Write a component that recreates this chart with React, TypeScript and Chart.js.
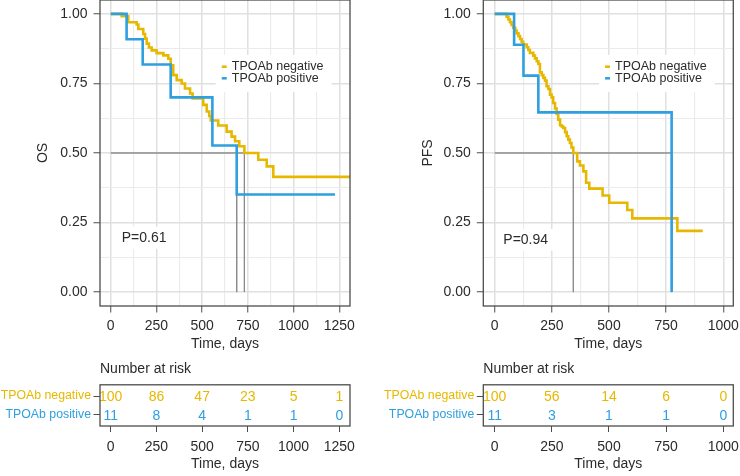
import React, { useEffect, useRef } from 'react';
import { Chart, registerables } from 'chart.js';

Chart.register(...registerables);

const YELLOW = '#E7B800';
const BLUE = '#2E9FDF';
const FONT = "'Liberation Sans', Arial, Helvetica, sans-serif";
const TEXT = '#2b2b2b';
const FRAME = '#4d4d4d';
const GRID_MAJOR = '#e0e0e0';
const GRID_MINOR = '#ebebeb';
const MEDIAN_H = '#555555';
const MEDIAN_V = '#8a8a8a';

const groupLabels = ['TPOAb negative', 'TPOAb positive'];
const survTicks = [0, 0.25, 0.5, 0.75, 1];

// ---- Overall survival (OS) ----
const osNegTimes = [0, 60, 96, 142, 151, 178, 188, 197, 209, 224, 251, 288, 315, 328, 342, 361, 388, 406, 434, 448, 506, 525, 539, 547, 588, 634, 661, 680, 703, 731, 807, 853, 889, 1310];
const osNegSurv = [1, 0.992, 0.97, 0.962, 0.946, 0.928, 0.911, 0.893, 0.879, 0.869, 0.859, 0.851, 0.839, 0.815, 0.78, 0.762, 0.75, 0.732, 0.714, 0.696, 0.673, 0.649, 0.633, 0.617, 0.599, 0.577, 0.559, 0.542, 0.524, 0.5, 0.476, 0.452, 0.414, 0.414];
const osPosTimes = [0, 87, 175, 328, 556, 689, 1226];
const osPosSurv = [1, 0.909, 0.818, 0.7, 0.527, 0.351, 0.351];
const osMedianNeg = 731;
const osMedianPos = 689;
const osPText = 'P=0.61';
const osTimeTicks = [0, 250, 500, 750, 1000, 1250];
const osRiskNeg = [100, 86, 47, 23, 5, 1];
const osRiskPos = [11, 8, 4, 1, 1, 0];

// ---- Progression-free survival (PFS) ----
const pfsNegTimes = [0, 52, 60, 67, 74, 81, 90, 96, 104, 111, 118, 125, 140, 147, 154, 169, 176, 184, 191, 198, 206, 213, 220, 227, 235, 242, 249, 256, 264, 271, 278, 286, 293, 300, 308, 315, 322, 329, 336, 344, 361, 373, 388, 400, 414, 472, 501, 580, 602, 799, 910];
const pfsNegSurv = [1, 0.99, 0.98, 0.97, 0.96, 0.95, 0.94, 0.93, 0.92, 0.91, 0.9, 0.89, 0.88, 0.87, 0.86, 0.85, 0.84, 0.83, 0.82, 0.79, 0.78, 0.77, 0.76, 0.74, 0.73, 0.71, 0.7, 0.68, 0.66, 0.64, 0.62, 0.6, 0.595, 0.59, 0.575, 0.56, 0.548, 0.536, 0.52, 0.5, 0.47, 0.455, 0.434, 0.393, 0.372, 0.347, 0.321, 0.295, 0.265, 0.22, 0.22];
const pfsPosTimes = [0, 85, 126, 191, 774];
const pfsPosSurv = [1, 0.889, 0.778, 0.646, 0];
const pfsMedianNeg = 344;
const pfsMedianPos = 774;
const pfsPText = 'P=0.94';
const pfsTimeTicks = [0, 250, 500, 750, 1000];
const pfsRiskNeg = [100, 56, 14, 6, 0];
const pfsRiskPos = [11, 3, 1, 1, 0];

function pts(t: number[], s: number[]) {
  return t.map((x, i) => ({ x, y: s[i] }));
}

function midpoints(ticks: number[], min: number, max: number) {
  const out: number[] = [];
  for (let i = 0; i < ticks.length - 1; i++) out.push((ticks[i] + ticks[i + 1]) / 2);
  const step = ticks[1] - ticks[0];
  if (ticks[ticks.length - 1] + step / 2 <= max) out.push(ticks[ticks.length - 1] + step / 2);
  if (ticks[0] - step / 2 >= min) out.push(ticks[0] - step / 2);
  return out;
}

function isIn(list: number[], v: number) {
  return list.some((t) => Math.abs(t - v) < 1e-6);
}

function zeroPad(s: any) {
  s.paddingLeft = 0;
  s.paddingRight = 0;
  s.paddingTop = 0;
  s.paddingBottom = 0;
}

const font = (size: number) => ({ family: FONT, size, weight: 'normal' as const });

type KMProps = {
  pageLeft: number;
  width: number;
  height: number;
  areaLeft: number;
  areaRight: number;
  xAxisHeight: number;
  xMin: number;
  xMax: number;
  xTicks: number[];
  yTitle: string;
  yTitlePad: number;
  negT: number[];
  negS: number[];
  posT: number[];
  posS: number[];
  medNeg: number;
  medPos: number;
  pText: string;
  pFx: number;
  pFy: number;
  legFx: number;
  legFy: number;
};

function KMPlot(p: KMProps) {
  const ref = useRef<HTMLCanvasElement>(null);
  useEffect(() => {
    const canvas = ref.current!;
    const xAll = [...p.xTicks, ...midpoints(p.xTicks, p.xMin, p.xMax)].sort((a, b) => a - b);
    const yAll = [...survTicks, ...midpoints(survTicks, -0.06, 1.06)].sort((a, b) => a - b);
    const medEnd = Math.max(p.medNeg, p.medPos);

    const annot = {
      id: 'kmAnnot',
      beforeDatasetsDraw(chart: any) {
        const { ctx, chartArea: a } = chart;
        const w = a.right - a.left;
        const h = a.bottom - a.top;
        ctx.save();
        ctx.font = `14px ${FONT}`;
        const px = a.left + p.pFx * w;
        const py = a.top + p.pFy * h;
        const pw = ctx.measureText(p.pText).width;
        ctx.fillStyle = '#ffffff';
        ctx.fillRect(px - 7, py - 11, pw + 14, 22);
        ctx.fillStyle = TEXT;
        ctx.textAlign = 'left';
        ctx.textBaseline = 'middle';
        ctx.fillText(p.pText, px, py);
        const items = chart.data.datasets.filter((d: any) => d.label);
        ctx.font = `12.5px ${FONT}`;
        const kx = a.left + p.legFx * w;
        const ky = a.top + p.legFy * h;
        const rowH = 11.6;
        let maxW = 0;
        items.forEach((d: any) => { maxW = Math.max(maxW, ctx.measureText(d.label).width); });
        ctx.fillStyle = '#ffffff';
        ctx.fillRect(kx - 6, ky - 12, maxW + 24, rowH * items.length + 14);
        items.forEach((d: any, i: number) => {
          const y = ky + i * rowH;
          ctx.strokeStyle = d.borderColor;
          ctx.lineWidth = 2.5;
          ctx.beginPath();
          ctx.moveTo(kx, y);
          ctx.lineTo(kx + 5, y);
          ctx.stroke();
          ctx.fillStyle = TEXT;
          ctx.fillText(d.label, kx + 10, y);
        });
        ctx.restore();
      },
      afterDatasetsDraw(chart: any) {
        const { ctx, chartArea: a } = chart;
        ctx.save();
        ctx.strokeStyle = FRAME;
        ctx.lineWidth = 1.3;
        ctx.strokeRect(a.left, a.top, a.right - a.left, a.bottom - a.top);
        ctx.restore();
      },
    };

    const medLine = (data: any[], color: string) => ({
      label: '',
      data,
      borderColor: color,
      borderWidth: 0.9,
      pointRadius: 0,
      fill: false,
      order: 2,
    });

    const chart = new Chart(canvas, {
      type: 'line',
      data: {
        datasets: [
          medLine([{ x: 0, y: 0.5 }, { x: medEnd, y: 0.5 }], MEDIAN_H),
          medLine([{ x: p.medNeg, y: 0.5 }, { x: p.medNeg, y: 0 }], MEDIAN_V),
          medLine([{ x: p.medPos, y: 0.5 }, { x: p.medPos, y: 0 }], MEDIAN_V),
          {
            label: groupLabels[0],
            data: pts(p.negT, p.negS),
            borderColor: YELLOW,
            borderWidth: 2.6,
            stepped: 'before',
            pointRadius: 0,
            fill: false,
            order: 1,
          },
          {
            label: groupLabels[1],
            data: pts(p.posT, p.posS),
            borderColor: BLUE,
            borderWidth: 2.6,
            stepped: 'before',
            pointRadius: 0,
            fill: false,
            order: 0,
          },
        ] as any,
      },
      options: {
        responsive: false,
        maintainAspectRatio: false,
        animation: false,
        events: [],
        layout: { padding: { left: 0, top: 0, bottom: 0, right: p.width - p.areaRight } },
        plugins: { legend: { display: false }, tooltip: { enabled: false }, title: { display: false } },
        scales: {
          x: {
            type: 'linear',
            min: p.xMin,
            max: p.xMax,
            afterBuildTicks: (s: any) => { s.ticks = xAll.map((v) => ({ value: v })); },
            afterFit: (s: any) => { s.height = p.xAxisHeight; zeroPad(s); },
            ticks: {
              autoSkip: false,
              maxRotation: 0,
              minRotation: 0,
              padding: 4.8,
              color: TEXT,
              font: font(14),
              callback: (v: any) => (isIn(p.xTicks, v) ? String(v) : ''),
            },
            grid: {
              color: (c: any) => (isIn(p.xTicks, c.tick.value) ? GRID_MAJOR : GRID_MINOR),
              lineWidth: (c: any) => (isIn(p.xTicks, c.tick.value) ? 1.5 : 1.1),
              tickColor: (c: any) => (isIn(p.xTicks, c.tick.value) ? FRAME : 'rgba(0,0,0,0)'),
              tickLength: 6.5,
              tickWidth: 1,
            },
            border: { display: false },
            title: { display: true, text: 'Time, days', color: TEXT, font: font(14), padding: { top: 0, bottom: 2.6 } },
          },
          y: {
            type: 'linear',
            min: -0.05,
            max: 1.05,
            afterBuildTicks: (s: any) => { s.ticks = yAll.map((v) => ({ value: v })); },
            afterFit: (s: any) => { s.width = p.areaLeft; zeroPad(s); },
            ticks: {
              autoSkip: false,
              padding: 6,
              color: TEXT,
              font: font(14),
              callback: (v: any) => (isIn(survTicks, v) ? Number(v).toFixed(2) : ''),
            },
            grid: {
              color: (c: any) => (isIn(survTicks, c.tick.value) ? GRID_MAJOR : GRID_MINOR),
              lineWidth: (c: any) => (isIn(survTicks, c.tick.value) ? 1.5 : 1.1),
              tickColor: (c: any) => (isIn(survTicks, c.tick.value) ? FRAME : 'rgba(0,0,0,0)'),
              tickLength: 6.5,
              tickWidth: 1,
            },
            border: { display: false },
            title: { display: true, text: p.yTitle, color: TEXT, font: font(14), padding: { top: p.yTitlePad, bottom: 0 } },
          },
        },
      } as any,
      plugins: [annot],
    });
    return () => chart.destroy();
  }, []);
  return (
    <canvas
      ref={ref}
      width={p.width}
      height={p.height}
      style={{ position: 'absolute', left: p.pageLeft, top: 0, width: p.width, height: p.height }}
    />
  );
}

type RiskProps = {
  pageLeft: number;
  pageTop: number;
  width: number;
  height: number;
  areaLeft: number;
  areaRight: number;
  xMin: number;
  xMax: number;
  xTicks: number[];
  neg: number[];
  pos: number[];
};

function RiskTable(p: RiskProps) {
  const ref = useRef<HTMLCanvasElement>(null);
  useEffect(() => {
    const canvas = ref.current!;
    const counts = [p.neg, p.pos];
    const colors = [YELLOW, BLUE];
    const numbers = {
      id: 'riskNumbers',
      afterDatasetsDraw(chart: any) {
        const { ctx, chartArea: a } = chart;
        ctx.save();
        ctx.font = `14px ${FONT}`;
        ctx.textAlign = 'center';
        ctx.textBaseline = 'middle';
        chart.data.datasets.forEach((_d: any, di: number) => {
          const meta = chart.getDatasetMeta(di);
          ctx.fillStyle = colors[di];
          meta.data.forEach((el: any, i: number) => {
            ctx.fillText(String(counts[di][i]), el.x, el.y + 1.5);
          });
        });
        ctx.strokeStyle = FRAME;
        ctx.lineWidth = 1.3;
        ctx.strokeRect(a.left, a.top, a.right - a.left, a.bottom - a.top);
        ctx.restore();
      },
    };
    const chart = new Chart(canvas, {
      type: 'scatter',
      data: {
        datasets: [
          { label: groupLabels[0], data: p.xTicks.map((t) => ({ x: t, y: 2 })), pointRadius: 0, borderColor: YELLOW },
          { label: groupLabels[1], data: p.xTicks.map((t) => ({ x: t, y: 1 })), pointRadius: 0, borderColor: BLUE },
        ],
      },
      options: {
        responsive: false,
        maintainAspectRatio: false,
        animation: false,
        events: [],
        layout: { padding: { left: 0, top: 0, bottom: 0, right: p.width - p.areaRight } },
        plugins: {
          legend: { display: false },
          tooltip: { enabled: false },
          title: {
            display: true,
            text: 'Number at risk',
            align: 'start',
            fullSize: false,
            color: TEXT,
            font: font(14),
            padding: { top: 5.5, bottom: 7.5 },
          },
        },
        scales: {
          x: {
            type: 'linear',
            min: p.xMin,
            max: p.xMax,
            afterBuildTicks: (s: any) => { s.ticks = p.xTicks.map((v) => ({ value: v })); },
            afterFit: (s: any) => { s.height = 50; zeroPad(s); },
            ticks: { autoSkip: false, maxRotation: 0, minRotation: 0, padding: 6.3, color: TEXT, font: font(14), callback: (v: any) => String(v) },
            grid: { drawOnChartArea: false, color: 'rgba(0,0,0,0)', tickColor: FRAME, tickLength: 6, tickWidth: 1 },
            border: { display: false },
            title: { display: true, text: 'Time, days', color: TEXT, font: font(14), padding: { top: 0, bottom: 3.6 } },
          },
          y: {
            type: 'linear',
            min: 0.4,
            max: 2.6,
            afterBuildTicks: (s: any) => { s.ticks = [{ value: 1 }, { value: 2 }]; },
            afterFit: (s: any) => { s.width = p.areaLeft; zeroPad(s); },
            ticks: {
              autoSkip: false,
              padding: 2.5,
              font: font(12.3),
              color: (c: any) => (c.tick && c.tick.value === 2 ? YELLOW : BLUE),
              callback: (v: any) => (v === 2 ? groupLabels[0] : groupLabels[1]),
            },
            grid: { drawOnChartArea: false, color: 'rgba(0,0,0,0)', tickColor: FRAME, tickLength: 6.5, tickWidth: 1 },
            border: { display: false },
          },
        },
      } as any,
      plugins: [numbers],
    });
    return () => chart.destroy();
  }, []);
  return (
    <canvas
      ref={ref}
      width={p.width}
      height={p.height}
      style={{ position: 'absolute', left: p.pageLeft, top: p.pageTop, width: p.width, height: p.height }}
    />
  );
}

export default function App() {
  return (
    <div style={{ position: 'absolute', left: 0, top: 0, width: 740, height: 476, background: '#ffffff', overflow: 'hidden' }}>
      <KMPlot
        pageLeft={0}
        width={370}
        height={355}
        areaLeft={100}
        areaRight={350}
        xAxisHeight={49}
        xMin={-58.5}
        xMax={1308.5}
        xTicks={osTimeTicks}
        yTitle="OS"
        yTitlePad={35}
        negT={osNegTimes}
        negS={osNegSurv}
        posT={osPosTimes}
        posS={osPosSurv}
        medNeg={osMedianNeg}
        medPos={osMedianPos}
        pText={osPText}
        pFx={0.087}
        pFy={0.777}
        legFx={0.487}
        legFy={0.218}
      />
      <RiskTable
        pageLeft={0}
        pageTop={355}
        width={370}
        height={121}
        areaLeft={100}
        areaRight={350}
        xMin={-58.5}
        xMax={1308.5}
        xTicks={osTimeTicks}
        neg={osRiskNeg}
        pos={osRiskPos}
      />
      <KMPlot
        pageLeft={370}
        width={370}
        height={355}
        areaLeft={113.3}
        areaRight={363.3}
        xAxisHeight={49}
        xMin={-49.7}
        xMax={1043.7}
        xTicks={pfsTimeTicks}
        yTitle="PFS"
        yTitlePad={50}
        negT={pfsNegTimes}
        negS={pfsNegSurv}
        posT={pfsPosTimes}
        posS={pfsPosSurv}
        medNeg={pfsMedianNeg}
        medPos={pfsMedianPos}
        pText={pfsPText}
        pFx={0.08}
        pFy={0.784}
        legFx={0.487}
        legFy={0.218}
      />
      <RiskTable
        pageLeft={370}
        pageTop={355}
        width={370}
        height={121}
        areaLeft={113.3}
        areaRight={363.3}
        xMin={-49.7}
        xMax={1043.7}
        xTicks={pfsTimeTicks}
        neg={pfsRiskNeg}
        pos={pfsRiskPos}
      />
    </div>
  );
}
